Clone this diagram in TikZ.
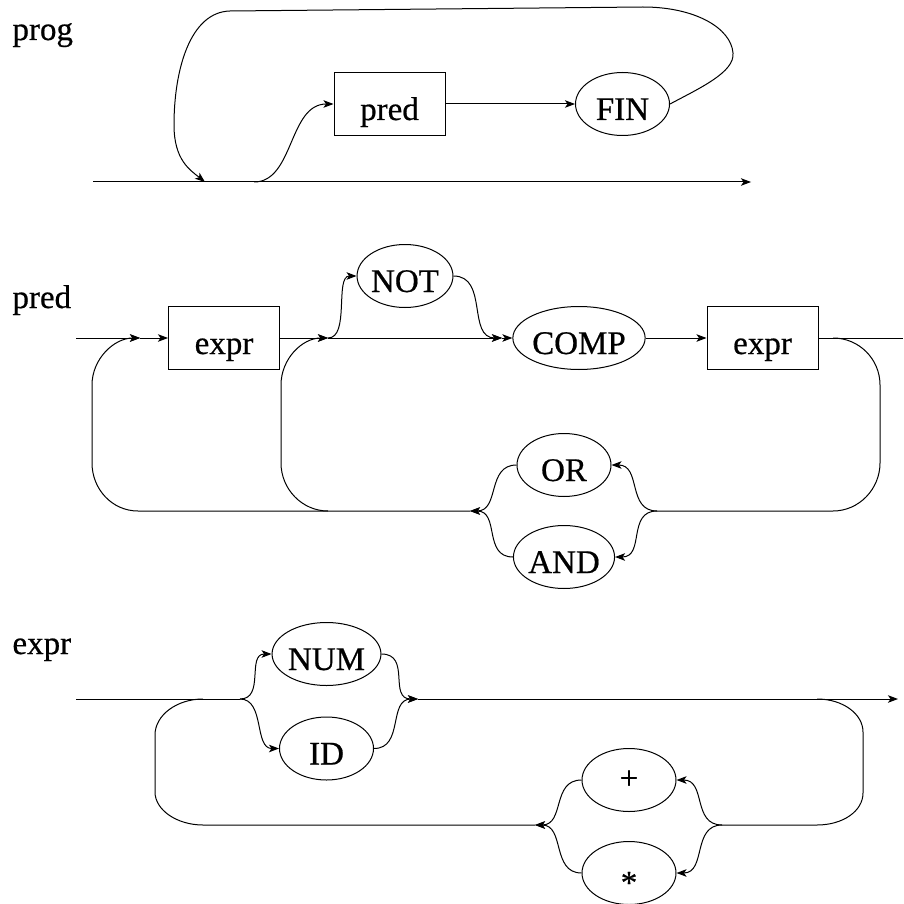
\documentclass[tikz,border=0pt]{standalone}
\usepackage{fontspec}
\setmainfont{Liberation Serif}[FakeBold=0.6]
\usetikzlibrary{arrows.meta,shapes.geometric}
\begin{document}
\begin{tikzpicture}[x=1pt,y=-1pt,line width=1pt,
  every node/.style={font=\fontsize{33}{38}\selectfont},
  term/.style={draw, ellipse, minimum width=94pt, minimum height=63pt, inner sep=0pt, text height=32pt, text depth=0pt},
  nonterm/.style={draw, rectangle, minimum width=111pt, minimum height=63pt, inner sep=0pt, text height=32pt, text depth=0pt},
  lbl/.style={anchor=base west, inner sep=0pt},
  rail/.style={line width=1pt},
  arr/.style={rail, -{Stealth[length=10pt,width=7.5pt,inset=2.5pt]}},
]
\path[use as bounding box] (0,0) rectangle (903,904);

% ---------------- prog ----------------
\node[lbl] (lprog) at (12,40) {prog};
\node[nonterm] (pred0) at (389.5,104) {pred};
\node[term] (fin) at (622.5,104) {FIN};
\coordinate (p0) at (93,182);
\coordinate (p1) at (205,182);
\coordinate (p2) at (254,182);
\coordinate (p3) at (751,182);
\draw[arr] (p0) -- (p3);
\draw[arr] (p2) .. controls +(40,0) and +(-45,0) .. (pred0.west);
\draw[arr] (pred0.east) -- (fin.west);
\draw[arr] (fin.east) .. controls (700,88) and (735,72) .. (733,53)
  .. controls (731,28) and (695,7) .. (643,7) -- (230,11)
  .. controls (190,12) and (174,70) .. (174,125)
  .. controls (174,160) and (190,170) .. (p1);

% ---------------- pred ----------------
\node[lbl] (lpred) at (12,308) {pred};
\node[nonterm] (e1) at (224,338) {expr};
\node[term] (not) at (405,276) {NOT};
\node[term] (comp) at (579,338) {COMP};
\node[nonterm] (e2) at (762.5,338) {expr};
\node[term] (or) at (564,465) {OR};
\node[term] (and) at (564,557) {AND};
\coordinate (a0) at (76,338);
\coordinate (a1) at (140,338);
\coordinate (a2) at (328,338);
\coordinate (a3) at (502,338);
\coordinate (a4) at (833,338);
\coordinate (a5) at (903,338);
\coordinate (b0) at (138,511);
\coordinate (b1) at (328,511);
\coordinate (b2) at (470,511);
\coordinate (b3) at (657,511);
\coordinate (b4) at (833,511);
\draw[arr] (a0) -- (a1);
\draw[arr] (a1) -- (e1.west);
\draw[arr] (e1.east) -- (a2);
\draw[arr] (a2) -- (a3);
\draw[arr] (a3) -- (comp.west);
\draw[arr] (comp.east) -- (e2.west);
\draw[rail] (e2.east) -- (a5);
\draw[arr] (a2) .. controls +(22,0) and +(-22,0) .. (not.west);
\draw[arr] (not.east) .. controls +(35,0) and +(-35,0) .. (a3);
\draw[arr] (b2) -- (b0) .. controls +(-26,0) and +(0,26) .. (92,463) -- (92,385)
  .. controls +(0,-26) and +(-26,0) .. (a1);
\draw[arr] (b1) .. controls +(-26,0) and +(0,26) .. (281,463) -- (281,385)
  .. controls +(0,-26) and +(-26,0) .. (a2);
\draw[rail] (a4) .. controls +(26,0) and +(0,-26) .. (880,385) -- (880,463)
  .. controls +(0,26) and +(26,0) .. (b4) -- (b3);
\draw[arr] (b3) .. controls +(-30,0) and +(30,0) .. (or.east);
\draw[arr] (b3) .. controls +(-30,0) and +(30,0) .. (and.east);
\draw[arr] (or.west) .. controls +(-30,0) and +(30,0) .. (b2);
\draw[arr] (and.west) .. controls +(-30,0) and +(30,0) .. (b2);

% ---------------- expr ----------------
\node[lbl] (lexpr) at (12,654) {expr};
\node[term] (num) at (326.5,654) {NUM};
\node[term] (id) at (326.5,748.5) {ID};
\node[term, text height=18pt] (plus) at (629,780) {+};
\node[term, text height=41pt] (star) at (629,873) {*};
\coordinate (c0) at (76,699);
\coordinate (c1) at (203,699);
\coordinate (c2) at (240,699);
\coordinate (c3) at (418,699);
\coordinate (c4) at (817,699);
\coordinate (c5) at (898,699);
\coordinate (d0) at (203,825);
\coordinate (d1) at (535,825);
\coordinate (d2) at (722,825);
\coordinate (d3) at (817,825);
\draw[rail] (c0) -- (c2);
\draw[arr] (c2) .. controls +(25,0) and +(-25,0) .. (num.west);
\draw[arr] (c2) .. controls +(25,0) and +(-25,0) .. (id.west);
\draw[arr] (num.east) .. controls +(30,0) and +(-30,0) .. (c3);
\draw[arr] (id.east) .. controls +(30,0) and +(-30,0) .. (c3);
\draw[arr] (c3) -- (c5);
\draw[rail] (c4) .. controls +(26,0) and +(0,-18) .. (863,732) -- (863,793)
  .. controls +(0,18) and +(26,0) .. (d3) -- (d2);
\draw[arr] (d2) .. controls +(-30,0) and +(30,0) .. (plus.east);
\draw[arr] (d2) .. controls +(-30,0) and +(30,0) .. (star.east);
\draw[arr] (plus.west) .. controls +(-30,0) and +(30,0) .. (d1);
\draw[arr] (star.west) .. controls +(-30,0) and +(30,0) .. (d1);
\draw[rail] (d1) -- (d0) .. controls +(-26,0) and +(0,18) .. (155,792) -- (155,735)
  .. controls +(0,-20) and +(-26,0) .. (c1);
\end{tikzpicture}
\end{document}
